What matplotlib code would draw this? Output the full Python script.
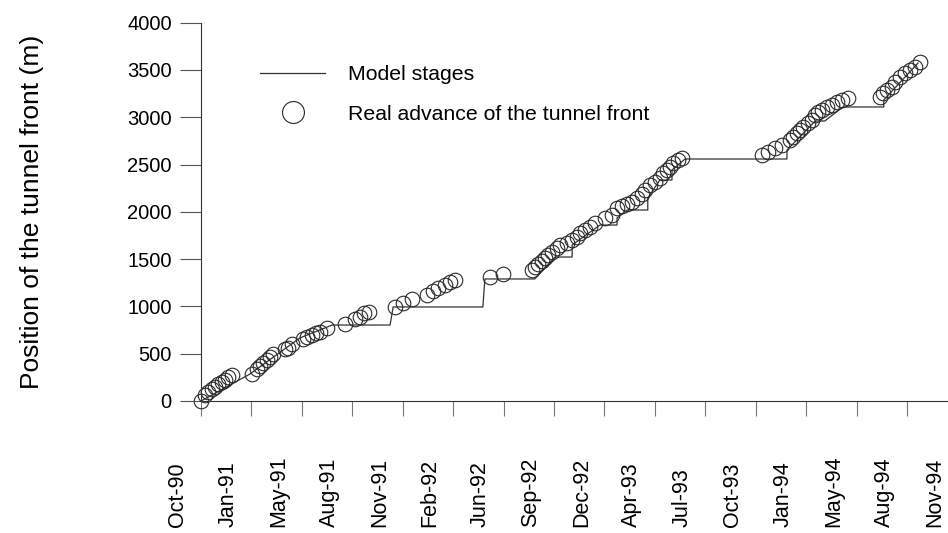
import matplotlib
matplotlib.use('Agg')
import matplotlib.pyplot as plt
import matplotlib.transforms as mtransforms
import numpy as np

plt.rcParams['font.family'] = ['Liberation Sans', 'DejaVu Sans']

# x axis in days from the first tick, one tick every 100 days
tick_labels = ['Oct-90', 'Jan-91', 'May-91', 'Aug-91', 'Nov-91', 'Feb-92', 'Jun-92', 'Sep-92',
               'Dec-92', 'Apr-93', 'Jul-93', 'Oct-93', 'Jan-94', 'May-94', 'Aug-94', 'Nov-94']
tick_days = np.arange(len(tick_labels)) * 100

# model stages (step line)
stage_days = [0, 97, 196, 260, 375, 381, 559, 563, 662, 702, 736, 736, 791, 825, 825, 845,
              886, 886, 910, 934, 934, 960, 1162, 1162, 1218, 1237, 1273, 1354, 1354, 1422]
stage_pos = [0, 285, 666, 803, 803, 994, 994, 1290, 1290, 1522, 1522, 1649, 1860, 1860, 1934, 2019,
             2019, 2146, 2336, 2336, 2442, 2558, 2558, 2653, 2960, 2960, 3108, 3108, 3182, 3573]

# real advance of the front
real_days = [0, 8, 14, 22, 28, 34, 42, 48, 54, 62,
             101, 111, 117, 123, 131, 137, 143, 167, 173, 180, 202, 210, 220, 228, 236, 250,
             286, 305, 315, 323, 333,
             385, 401, 418, 448, 460, 470, 484, 494, 504, 573, 599,
             656, 662, 668, 676, 682, 688, 696, 706, 712, 726, 736, 746, 752, 761, 771, 781,
             801, 815, 825, 835, 845, 855, 865, 875, 880, 890, 900, 910, 916, 924, 930, 936, 946, 954,
             1112, 1124, 1138, 1152, 1168, 1174, 1182, 1188, 1194, 1204, 1212, 1218, 1224, 1231,
             1241, 1251, 1261, 1271, 1283,
             1346, 1352, 1360, 1370, 1376, 1386, 1396, 1406, 1416, 1426]
real_pos = [0, 63, 95, 127, 148, 180, 201, 222, 254, 275,
            285, 338, 370, 402, 433, 465, 497, 550, 560, 603, 655, 677, 698, 719, 729, 772,
            814, 867, 888, 930, 941,
            994, 1036, 1078, 1121, 1163, 1195, 1226, 1258, 1279, 1311, 1342,
            1385, 1417, 1448, 1480, 1512, 1543, 1575, 1617, 1649, 1670, 1702, 1734, 1776, 1808, 1839, 1882,
            1934, 1966, 2040, 2061, 2082, 2104, 2146, 2188, 2230, 2283, 2315, 2357, 2410, 2442, 2474, 2516, 2548, 2569,
            2600, 2632, 2674, 2706, 2759, 2791, 2833, 2865, 2897, 2939, 2970, 3023, 3055, 3076,
            3108, 3129, 3161, 3182, 3203,
            3214, 3256, 3288, 3319, 3372, 3425, 3467, 3499, 3531, 3584]

fig = plt.figure(figsize=(9.48, 5.33), dpi=100)
ax = fig.add_axes([201 / 948, 132 / 533, 756.4 / 948, 378.4 / 533])

ax.plot(stage_days, stage_pos, color='#333333', lw=0.9, label='Model stages', clip_on=False)
ax.plot(real_days, real_pos, 'o', mfc='none', mec='#2a2a2a', mew=0.8, ms=10.5,
        label='Real advance of the tunnel front', clip_on=False)

ax.set_xlim(0, 1500)
ax.set_ylim(0, 4000)
ax.set_yticks(np.arange(0, 4001, 500))

for s in ['top', 'right']:
    ax.spines[s].set_visible(False)
for s in ['left', 'bottom']:
    ax.spines[s].set_color('#333333')
    ax.spines[s].set_linewidth(0.8)

ax.tick_params(axis='y', length=15, width=0.8, color='#555555', labelsize=14.5, pad=6)
ax.tick_params(axis='x', length=11, width=0.8, color='#777777', labelsize=15.5, pad=80)

ax.set_xticks(tick_days)
ax.set_xticklabels(tick_labels, rotation=90, va='bottom')
# labels sit half way between the tick marks
shift = mtransforms.ScaledTranslation(-0.23, 0, fig.dpi_scale_trans)
for lab in ax.get_xticklabels():
    lab.set_transform(lab.get_transform() + shift)

ax.set_ylabel('Position of the tunnel front (m)', fontsize=19)
ax.yaxis.set_label_coords(-0.208, 0.5)

ax.legend(loc='upper left', bbox_to_anchor=(260 / 948, 468 / 533), bbox_transform=fig.transFigure,
          frameon=False, fontsize=15.3, handlelength=3.06, handletextpad=1.08, labelspacing=0.97,
          markerscale=1.5, borderpad=0, borderaxespad=0)

fig.savefig('out.png', dpi=100)
